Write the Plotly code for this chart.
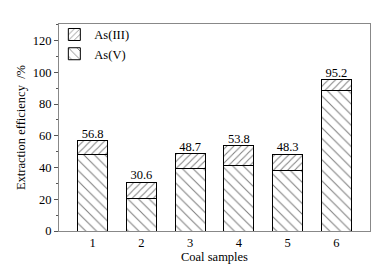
import plotly.graph_objects as go

samples = [1, 2, 3, 4, 5, 6]
totals = [56.8, 30.6, 48.7, 53.8, 48.3, 95.2]
as_v = [48.0, 20.8, 39.2, 41.0, 38.0, 88.7]
as_iii = [round(t - v, 1) for t, v in zip(totals, as_v)]
total_labels = ["56.8", "30.6", "48.7", "53.8", "48.3", "95.2"]

FONT = "Liberation Serif"
FS = 12.5

fig = go.Figure()
fig.add_trace(go.Bar(
    x=samples, y=as_v, name="As(V)", width=0.62,
    marker=dict(color="white", line=dict(color="black", width=1),
                pattern=dict(shape="\\", fgcolor="black", bgcolor="white",
                             size=7.5, solidity=0.14, fillmode="overlay")),
))
fig.add_trace(go.Bar(
    x=samples, y=as_iii, name="As(III)", width=0.62,
    marker=dict(color="white", line=dict(color="black", width=1),
                pattern=dict(shape="/", fgcolor="black", bgcolor="white",
                             size=5, solidity=0.2, fillmode="overlay")),
))
fig.add_trace(go.Scatter(
    x=samples, y=totals, mode="text", text=total_labels,
    textposition="top center", textfont=dict(family=FONT, size=FS, color="black"),
    showlegend=False, hoverinfo="skip",
))

fig.update_layout(
    width=380, height=265,
    margin=dict(l=47, r=18, t=15, b=41),
    barmode="stack",
    plot_bgcolor="white", paper_bgcolor="white",
    font=dict(family=FONT, size=FS, color="black"),
    showlegend=True,
    legend=dict(x=-0.015, y=1.02, xanchor="left", yanchor="top",
                traceorder="reversed",
                bgcolor="rgba(0,0,0,0)", font=dict(family=FONT, size=FS),
                itemwidth=30, tracegroupgap=0),
    xaxis=dict(range=[0.31, 6.69], tickvals=samples, ticktext=[str(s) for s in samples],
               showgrid=False, zeroline=False, showline=True, linecolor="#888",
               linewidth=1, mirror=True, ticks="", ticklen=0,
               title=dict(text="Coal samples", standoff=2, font=dict(size=FS))),
    yaxis=dict(range=[0, 130.5], tickvals=[0, 20, 40, 60, 80, 100, 120],
               showgrid=False, zeroline=False, showline=True, linecolor="#888",
               linewidth=1, mirror=True, ticks="outside", ticklen=4, tickcolor="#555",
               minor=dict(tickvals=[10, 30, 50, 70, 90, 110, 130], ticks="outside", ticklen=2, tickcolor="#555"),
               title=dict(text="Extraction efficiency  /%", standoff=4, font=dict(size=FS))),
)

fig.write_html("out.html")
